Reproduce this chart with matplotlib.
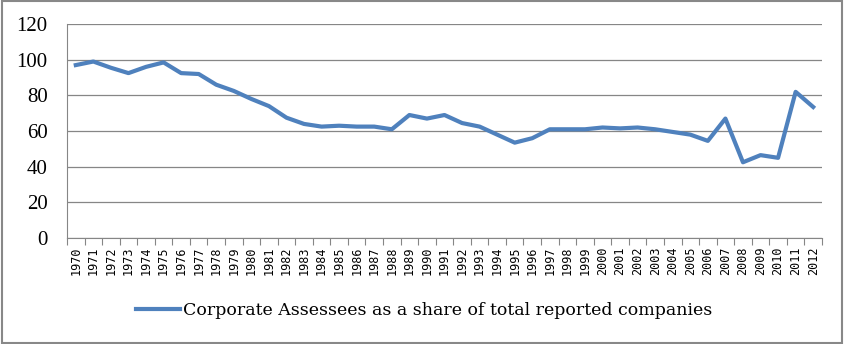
import numpy as np
import matplotlib
matplotlib.use("Agg")
import matplotlib.pyplot as plt
from matplotlib.patches import Rectangle

years = list(range(1970, 2013))
share = [97, 99, 95.5, 92.5, 96, 98.5, 92.5, 92, 86, 82.5,
         78, 74, 67.5, 64, 62.5, 63, 62.5, 62.5, 61, 69,
         67, 69, 64.5, 62.5, 58, 53.5, 56, 61, 61, 61,
         62, 61.5, 62, 61, 59.5, 58, 54.5, 67, 42.5, 46.5,
         45, 82, 73.5]
series_name = "Corporate Assessees as a share of total reported companies"
yticks = [0, 20, 40, 60, 80, 100, 120]

fig = plt.figure(figsize=(8.44, 3.44), dpi=100)
ax = fig.add_axes([0.0794, 0.308, 0.8945, 0.622])

x = np.arange(len(years))
ax.plot(x, share, color="#4F81BD", lw=3, solid_joinstyle="round",
        label=series_name)

ax.set_xlim(-0.5, len(years) - 0.5)
ax.set_ylim(0, 120)
ax.set_yticks(yticks)
ax.set_yticklabels([str(v) for v in yticks], family="Liberation Serif", fontsize=15)
ax.yaxis.grid(True, color="#868686", lw=0.9)
ax.set_axisbelow(True)

# category axis: ticks on the boundaries, labels in the middle
ax.set_xticks(np.arange(len(years) + 1) - 0.5)
ax.set_xticklabels([])
ax.set_xticks(x, minor=True)
ax.set_xticklabels([str(y) for y in years], minor=True, rotation=90,
                   family="DejaVu Sans Mono", fontsize=8.5)
ax.tick_params(axis="x", which="major", length=5, color="#868686", direction="out")
ax.tick_params(axis="x", which="minor", length=0, pad=6)
ax.tick_params(axis="y", length=0, pad=14)

for s in ["top", "right"]:
    ax.spines[s].set_visible(False)
ax.spines["left"].set_color("#868686")
ax.spines["bottom"].set_color("#868686")

fig.legend(loc="center", bbox_to_anchor=(0.503, 0.096), frameon=False,
           prop={"family": "DejaVu Serif", "size": 12.5},
           handlelength=2.5, handletextpad=0.2)

fig.patches.append(Rectangle((0.002, 0.003), 0.996, 0.994, transform=fig.transFigure,
                             fill=False, edgecolor="#888888", lw=1.5))

fig.savefig("out.png", dpi=100)
